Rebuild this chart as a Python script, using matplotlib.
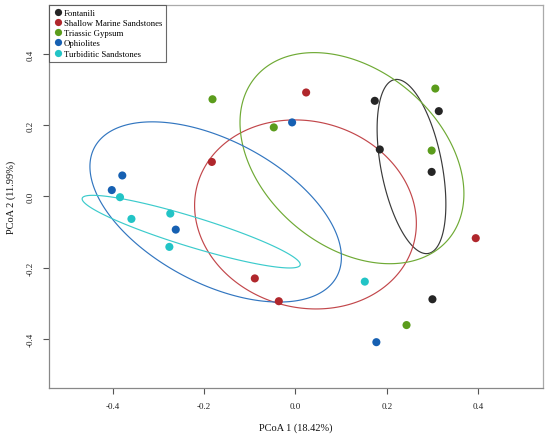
import numpy as np
import matplotlib
matplotlib.use("Agg")
import matplotlib.pyplot as plt
from matplotlib.lines import Line2D
from matplotlib.patches import Polygon

groups = ["Fontanili", "Shallow Marine Sandstones", "Triassic Gypsum",
          "Ophiolites", "Turbiditic Sandstones"]
colors = ["#252525", "#B0272C", "#5B9C1C", "#1660B2", "#22C4C6"]
ellipse_colors = ["#3a3a3a", "#C2474B", "#6FAA35", "#3276C0", "#3CCBCC"]

fontanili_x = [0.1735, 0.3136, 0.1845, 0.298, 0.2997]
fontanili_y = [0.2686, 0.2396, 0.132, 0.069, -0.2885]
shallow_x = [-0.183, 0.0233, -0.089, 0.3945, -0.0365]
shallow_y = [0.097, 0.292, -0.230, -0.117, -0.294]
gypsum_x = [-0.1816, -0.0475, 0.306, 0.298, 0.243]
gypsum_y = [0.273, 0.194, 0.303, 0.129, -0.361]
ophio_x = [-0.379, -0.402, -0.262, -0.0074, 0.177]
ophio_y = [0.059, 0.018, -0.093, 0.208, -0.409]
turb_x = [-0.384, -0.274, -0.359, -0.276, 0.1517]
turb_y = [-0.002, -0.048, -0.063, -0.1415, -0.239]

xs = [fontanili_x, shallow_x, gypsum_x, ophio_x, turb_x]
ys = [fontanili_y, shallow_y, gypsum_y, ophio_y, turb_y]

xticks = [-0.4, -0.2, 0.0, 0.2, 0.4]
yticks = [-0.4, -0.2, 0.0, 0.2, 0.4]

plt.rcParams['font.family'] = ['Liberation Serif', 'DejaVu Serif']

fig = plt.figure(figsize=(5.5, 4.39), dpi=100)
ax = fig.add_axes([48.5/550, 1 - 389.3/439, (542.7-48.5)/550, (389.3-5.5)/439])
ax.set_xlim(-0.5405, 0.541)
ax.set_ylim(-0.5385, 0.539)

# 95% standard-error ellipses around group centroids
chi = np.sqrt(5.991464547107979)
t = np.linspace(0, 2*np.pi, 400, endpoint=False)
circle = np.vstack([np.cos(t), np.sin(t)])
for gx, gy, c in zip(xs, ys, ellipse_colors):
    P = np.column_stack([gx, gy])
    n = len(P)
    cen = P.mean(axis=0)
    cov = np.cov(P.T) / n
    L = np.linalg.cholesky(cov)
    E = cen[:, None] + chi * L @ circle
    ax.add_patch(Polygon(E.T, closed=True, fill=False, edgecolor=c,
                         lw=0.85, zorder=2))

for gx, gy, c in zip(xs, ys, colors):
    ax.scatter(gx, gy, s=34, color=c, edgecolors='none', zorder=3)

for sp in ax.spines.values():
    sp.set_color('#888888')
    sp.set_linewidth(0.9)
ax.spines['top'].set_color('#aaaaaa')
ax.spines['right'].set_color('#aaaaaa')

ax.set_xticks(xticks)
ax.set_xticklabels([f"{v:.1f}" for v in xticks])
ax.set_yticks(yticks)
ax.set_yticklabels([f"{v:.1f}" for v in yticks], rotation=90, va='center')
ax.tick_params(axis='both', colors='#555555', length=4, width=0.8,
               labelsize=6.5, labelcolor='#222222', pad=6)

ax.set_xlabel("PCoA 1 (18.42%)", fontsize=7.5, labelpad=9, color='#111111')
ax.set_ylabel("PCoA 2 (11.99%)", fontsize=7.5, labelpad=8, color='#111111')

handles = [Line2D([], [], marker='o', ls='none', color=c, markersize=5.2,
                  markeredgewidth=0) for c in colors]
leg = ax.legend(handles, groups, loc='upper left', fontsize=6.3,
                frameon=True, fancybox=False, borderaxespad=0,
                handletextpad=0.1, labelspacing=0.25, borderpad=0.45,
                handlelength=1.2)
leg.get_frame().set_edgecolor('#444444')
leg.get_frame().set_linewidth(0.8)

fig.savefig("out.png", dpi=100)
